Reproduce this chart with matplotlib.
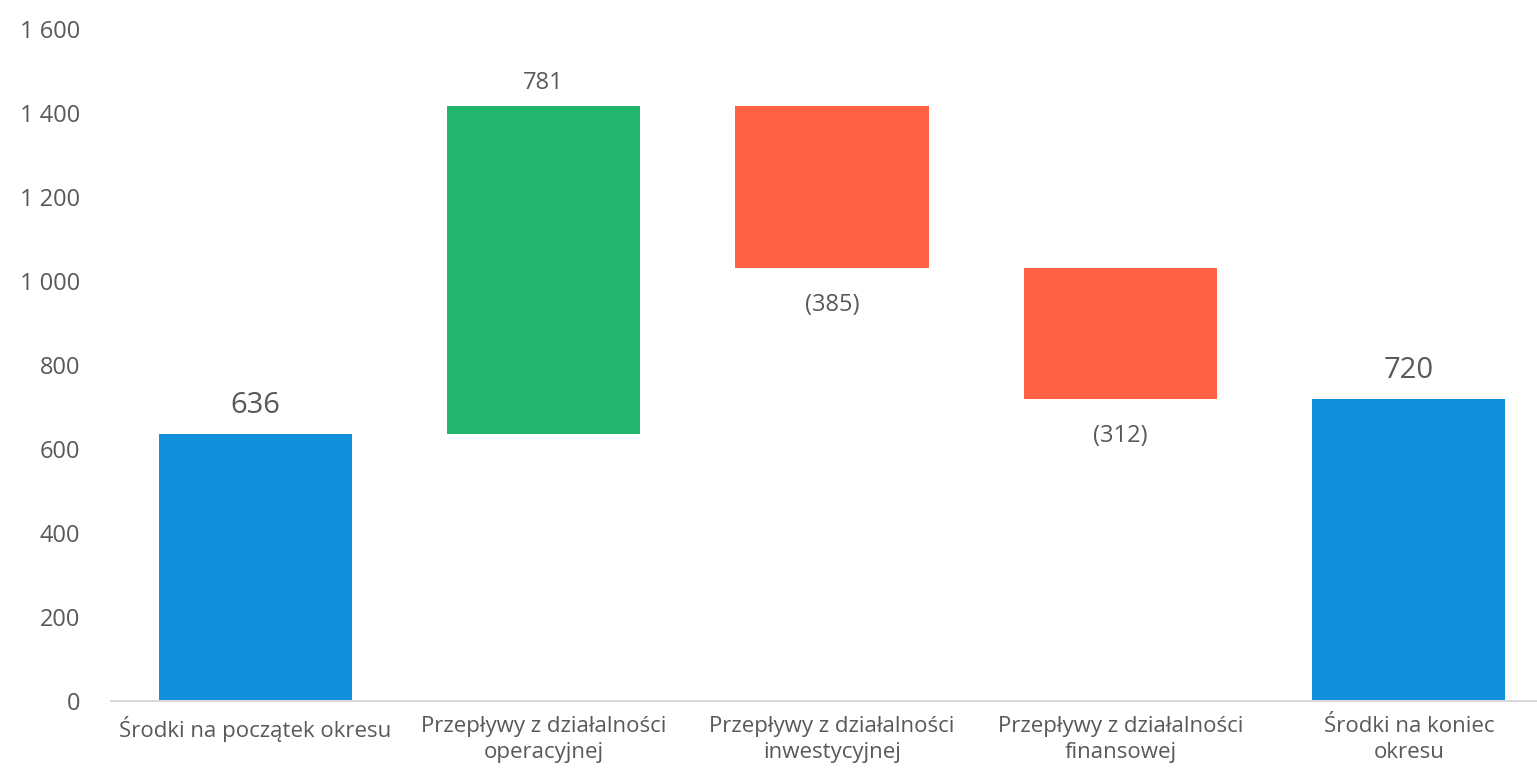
import matplotlib

matplotlib.use("Agg")
import matplotlib.pyplot as plt

categories = [
    "Środki na początek okresu",
    "Przepływy z działalności\noperacyjnej",
    "Przepływy z działalności\ninwestycyjnej",
    "Przepływy z działalności\nfinansowej",
    "Środki na koniec\nokresu",
]
values = [636, 781, -385, -312, 720]
kinds = ["total", "delta", "delta", "delta", "total"]
yticks = [0, 200, 400, 600, 800, 1000, 1200, 1400, 1600]

BLUE = "#1190DC"
GREEN = "#23B56D"
RED = "#FF6142"
TEXT = "#595959"

plt.rcParams["font.family"] = ["Open Sans", "DejaVu Sans"]

fig = plt.figure(figsize=(15.37, 7.72), dpi=100)
ax = fig.add_axes([111 / 1537, 71 / 772, 1442 / 1537, 672 / 772])

running = 0
for i, (v, k) in enumerate(zip(values, kinds)):
    if k == "total":
        running = v
        ax.bar(i, v, bottom=0, width=0.67, color=BLUE)
        ax.annotate(f"{v}", (i, v), xytext=(0, 10), textcoords="offset points",
                    ha="center", va="bottom", fontsize=21, color=TEXT)
    else:
        start = running
        running = running + v
        color = GREEN if v > 0 else RED
        ax.bar(i, abs(v), bottom=min(start, running), width=0.67, color=color)
        if v > 0:
            ax.annotate(f"{v}", (i, running), xytext=(0, 8), textcoords="offset points",
                        ha="center", va="bottom", fontsize=17, color=TEXT)
        else:
            ax.annotate(f"({abs(v)})", (i, running), xytext=(0, -27), textcoords="offset points",
                        ha="center", va="center", fontsize=17, color=TEXT)

ax.set_xlim(-0.5, len(values) - 0.5)
ax.set_ylim(0, 1600)
ax.set_yticks(yticks)
ax.set_yticklabels([f"{t:,}".replace(",", " ") for t in yticks], fontsize=17, color=TEXT)
ax.set_xticks(range(len(categories)))
ax.set_xticklabels(categories, fontsize=16, color=TEXT, linespacing=1.3)
ax.tick_params(axis="both", length=0)
ax.tick_params(axis="x", pad=11)
ax.tick_params(axis="y", pad=22)

for s in ["top", "right", "left"]:
    ax.spines[s].set_visible(False)
ax.spines["bottom"].set_color("#D9D9D9")
ax.spines["bottom"].set_linewidth(1.5)

fig.savefig("out.png", dpi=100)
